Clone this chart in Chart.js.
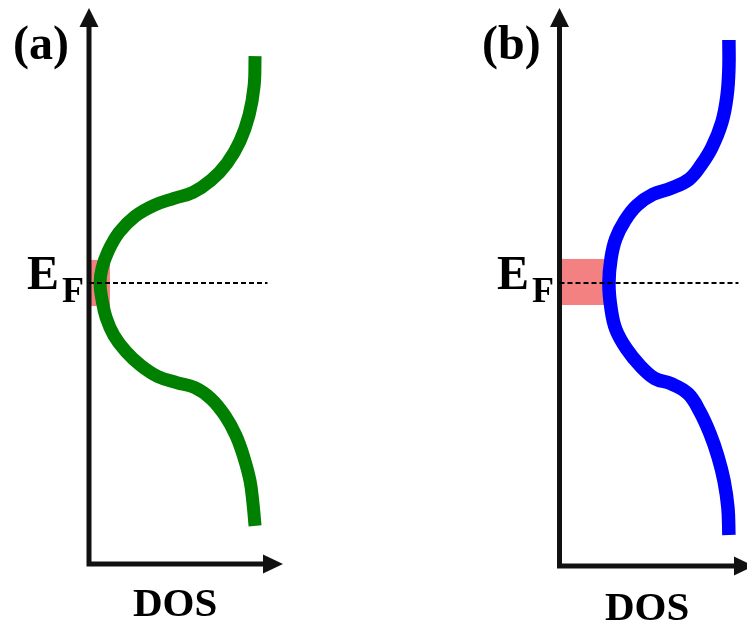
<!DOCTYPE html>
<html>
<head>
<meta charset="utf-8">
<script src="https://cdn.jsdelivr.net/npm/chart.js@4.4.1/dist/chart.umd.min.js"></script>
<style>
  body { margin: 0; background: #fff; }
  #wrap { position: relative; width: 747px; height: 625px; overflow: hidden; }
  canvas { position: absolute; top: 0; }
  .lbl { position: absolute; font-family: "Liberation Serif", "Times New Roman", serif; font-weight: bold; line-height: 1; color: #000; white-space: nowrap; }
  .sub { font-size: 36px; position: relative; top: 13px; margin-left: 3px; }
</style>
</head>
<body>
<div id="wrap">
  <canvas id="dosA" width="373" height="625" style="left:0"></canvas>
  <canvas id="dosB" width="374" height="625" style="left:373px"></canvas>

  <div class="lbl" style="left:13px;top:19px;font-size:48px">(a)</div>
  <div class="lbl" style="left:482px;top:19px;font-size:48px">(b)</div>

  <div class="lbl" style="left:27px;top:249px;font-size:48px">E<span class="sub">F</span></div>
  <div class="lbl" style="left:497px;top:249px;font-size:48px">E<span class="sub">F</span></div>

  <div class="lbl" style="left:133px;top:582px;font-size:41px">DOS</div>
  <div class="lbl" style="left:605px;top:586px;font-size:41px">DOS</div>
</div>

<script>
// energia relativa a E_F (u.a.) e DOS (u.a.), de cima para baixo
const energyA = [2.27, 1.97, 1.68, 1.42, 1.20, 1.03, 0.91, 0.85, 0.78, 0.67, 0.51, 0.32, 0.15, 0.00,
                 -0.16, -0.34, -0.52, -0.68, -0.82, -0.93, -0.99, -1.04, -1.15, -1.32, -1.52, -1.74, -1.97, -2.19, -2.42];
const dosA    = [8.56, 8.51, 8.25, 7.78, 7.11, 6.29, 5.36, 4.38, 3.35, 2.37, 1.55, 0.98, 0.67, 0.57,
                 0.67, 0.88, 1.29, 1.91, 2.68, 3.56, 4.54, 5.46, 6.29, 7.01, 7.58, 7.99, 8.30, 8.45, 8.56];

const energyB = [2.43, 2.15, 1.87, 1.61, 1.36, 1.18, 1.04, 0.95, 0.89, 0.78, 0.63, 0.45, 0.25, 0.00,
                 -0.25, -0.46, -0.66, -0.82, -0.95, -1.00, -1.10, -1.28, -1.50, -1.73, -1.97, -2.24, -2.51];
const dosB    = [8.71, 8.71, 8.61, 8.35, 7.84, 7.27, 6.66, 5.73, 4.81, 3.98, 3.37, 2.90, 2.65, 2.54,
                 2.65, 2.90, 3.47, 4.14, 4.91, 5.73, 6.61, 7.22, 7.74, 8.15, 8.46, 8.66, 8.71];

// faixa em torno do nivel de Fermi: DOS ate onde vai, e janela de energia
const bandDosA = 1.08;
const bandEnergyA = [0.235, -0.225];
const bandDosB = 2.29;
const bandEnergyB = [0.245, -0.215];

const fermiLevel = 0;
const fermiLineEnd = 9.2;
const axisEnd = 10;

// eixos com setas, faixa rosa e linha tracejada de E_F
const diagramPlugin = {
  id: 'diagram',
  beforeDatasetsDraw(chart, args, opts) {
    const { ctx, chartArea: a, scales: { x, y } } = chart;
    ctx.save();
    ctx.fillStyle = '#f38181';
    const x0 = x.getPixelForValue(0);
    const x1 = x.getPixelForValue(opts.bandDos);
    const y0 = y.getPixelForValue(opts.bandEnergy[0]);
    const y1 = y.getPixelForValue(opts.bandEnergy[1]);
    ctx.fillRect(x0, y0, x1 - x0, y1 - y0);

    const tip = x.getPixelForValue(axisEnd);
    ctx.strokeStyle = '#111';
    ctx.fillStyle = '#111';
    ctx.lineWidth = 5;
    ctx.lineJoin = 'miter';
    ctx.beginPath();
    ctx.moveTo(a.left, a.top + 15);
    ctx.lineTo(a.left, a.bottom);
    ctx.lineTo(tip - 15, a.bottom);
    ctx.stroke();

    ctx.beginPath();
    ctx.moveTo(a.left, a.top);
    ctx.lineTo(a.left - 9.5, a.top + 19);
    ctx.lineTo(a.left + 9.5, a.top + 19);
    ctx.closePath();
    ctx.moveTo(tip, a.bottom);
    ctx.lineTo(tip - 20, a.bottom - 9.5);
    ctx.lineTo(tip - 20, a.bottom + 9.5);
    ctx.closePath();
    ctx.fill();
    ctx.restore();
  },
  afterDatasetsDraw(chart) {
    const { ctx, scales: { x, y } } = chart;
    const yF = Math.round(y.getPixelForValue(fermiLevel));
    ctx.save();
    ctx.strokeStyle = '#000';
    ctx.lineWidth = 2;
    ctx.setLineDash([5, 3]);
    ctx.beginPath();
    ctx.moveTo(x.getPixelForValue(0), yF);
    ctx.lineTo(x.getPixelForValue(fermiLineEnd), yF);
    ctx.stroke();
    ctx.restore();
  }
};

function makeChart(id, energy, dos, color, width, padding, xMax, yMin, bandDos, bandEnergy) {
  return new Chart(document.getElementById(id), {
    type: 'line',
    data: {
      datasets: [{
        data: energy.map((e, i) => ({ x: dos[i], y: e })),
        borderColor: color,
        borderWidth: width,
        borderCapStyle: 'butt',
        borderJoinStyle: 'round',
        tension: 0.4,
        pointRadius: 0,
        fill: false
      }]
    },
    options: {
      responsive: false,
      animation: false,
      events: [],
      layout: { padding: padding },
      plugins: {
        legend: { display: false },
        tooltip: { enabled: false },
        diagram: { bandDos: bandDos, bandEnergy: bandEnergy }
      },
      scales: {
        x: { type: 'linear', display: false, min: 0, max: xMax },
        y: { type: 'linear', display: false, min: yMin, max: 2.75 }
      }
    },
    plugins: [diagramPlugin]
  });
}

makeChart('dosA', energyA, dosA, '#008000', 13,
  { left: 89, right: 90, top: 8, bottom: 61 }, 10, -2.8, bandDosA, bandEnergyA);
makeChart('dosB', energyB, dosB, '#0000ff', 13.5,
  { left: 186.5, right: 0, top: 8, bottom: 59 }, 9.64, -2.82, bandDosB, bandEnergyB);
</script>
</body>
</html>
